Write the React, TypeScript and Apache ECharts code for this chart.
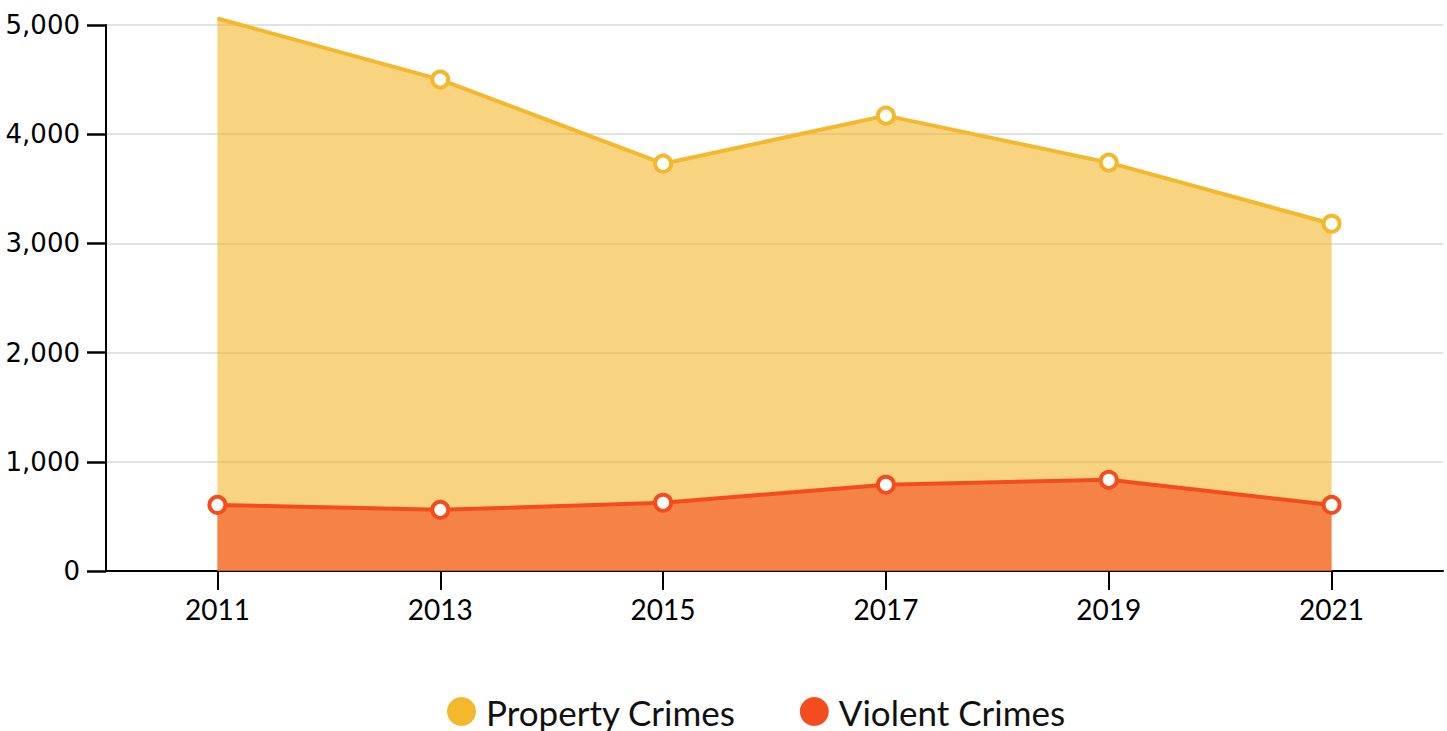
import React, { useEffect, useRef } from "react";
import * as echarts from "echarts";

const years = ["2011", "2013", "2015", "2017", "2019", "2021"];
const propertyCrimes = [5060, 4500, 3730, 4170, 3740, 3180];
const violentCrimes = [605, 560, 625, 790, 835, 605];
const yTicks = [0, 1000, 2000, 3000, 4000, 5000];

const PROP = "#f3b82c";
const VIOL = "#f54c1f";

export default function App() {
  const ref = useRef<HTMLDivElement>(null);
  useEffect(() => {
    if (!ref.current) return;
    const chart = echarts.init(ref.current, null, { renderer: "svg" });
    const labelFont = "Lato, 'Noto Sans', sans-serif";
    chart.setOption({
      animation: false,
      grid: { left: 106, right: 4, top: 25, bottom: 160, containLabel: false },
      legend: {
        bottom: -3,
        left: 442,
        itemWidth: 29,
        itemHeight: 29,
        itemGap: 64,
        icon: "circle",
        textStyle: { fontSize: 35, color: "#111", fontFamily: labelFont, padding: [0, 0, 0, 5] },
        data: [
          { name: "Property Crimes", itemStyle: { color: PROP, borderWidth: 0 } },
          { name: "Violent Crimes", itemStyle: { color: VIOL, borderWidth: 0 } },
        ],
      },
      xAxis: {
        type: "category",
        data: years,
        boundaryGap: true,
        axisLine: { show: true, lineStyle: { color: "#000", width: 2 } },
        axisTick: {
          show: true,
          inside: false,
          alignWithLabel: true,
          interval: 0,
          length: 19,
          lineStyle: { color: "#000", width: 2 },
        },
        axisLabel: { fontSize: 28, color: "#000", fontFamily: labelFont, margin: 24, interval: 0 },
        splitLine: { show: false },
      },
      yAxis: {
        type: "value",
        position: "left",
        min: yTicks[0],
        max: yTicks[yTicks.length - 1],
        interval: 1000,
        axisLine: { show: true, onZero: false, lineStyle: { color: "#000", width: 2 } },
        axisTick: { show: true, inside: false, length: 19, lineStyle: { color: "#000", width: 2.5 } },
        axisLabel: {
          show: true,
          fontSize: 26,
          color: "#000",
          fontFamily: "'DejaVu Sans', sans-serif",
          margin: 26,
          formatter: (v: number) => v.toLocaleString("en-US"),
        },
        splitLine: { show: true, lineStyle: { color: "#e2e2e2", width: 2 } },
      },
      series: [
        {
          name: "Property Crimes",
          type: "line",
          clip: false,
          data: propertyCrimes.map((v, i) => (i === 0 ? { value: v, symbol: "none" } : v)),
          symbol: "circle",
          symbolSize: 16,
          showAllSymbol: true,
          lineStyle: { color: PROP, width: 4 },
          itemStyle: { color: "#fff", borderColor: PROP, borderWidth: 4 },
          areaStyle: { color: PROP, opacity: 0.6 },
          z: 2,
        },
        {
          name: "Violent Crimes",
          type: "line",
          clip: false,
          data: violentCrimes,
          symbol: "circle",
          symbolSize: 16,
          showAllSymbol: true,
          lineStyle: { color: VIOL, width: 4 },
          itemStyle: { color: "#fff", borderColor: VIOL, borderWidth: 4 },
          areaStyle: { color: VIOL, opacity: 0.6 },
          z: 3,
        },
      ],
    });
    return () => chart.dispose();
  }, []);
  return (
    <div
      ref={ref}
      style={{ position: "fixed", left: 0, top: 0, width: 1447, height: 731, background: "#fff" }}
    />
  );
}
